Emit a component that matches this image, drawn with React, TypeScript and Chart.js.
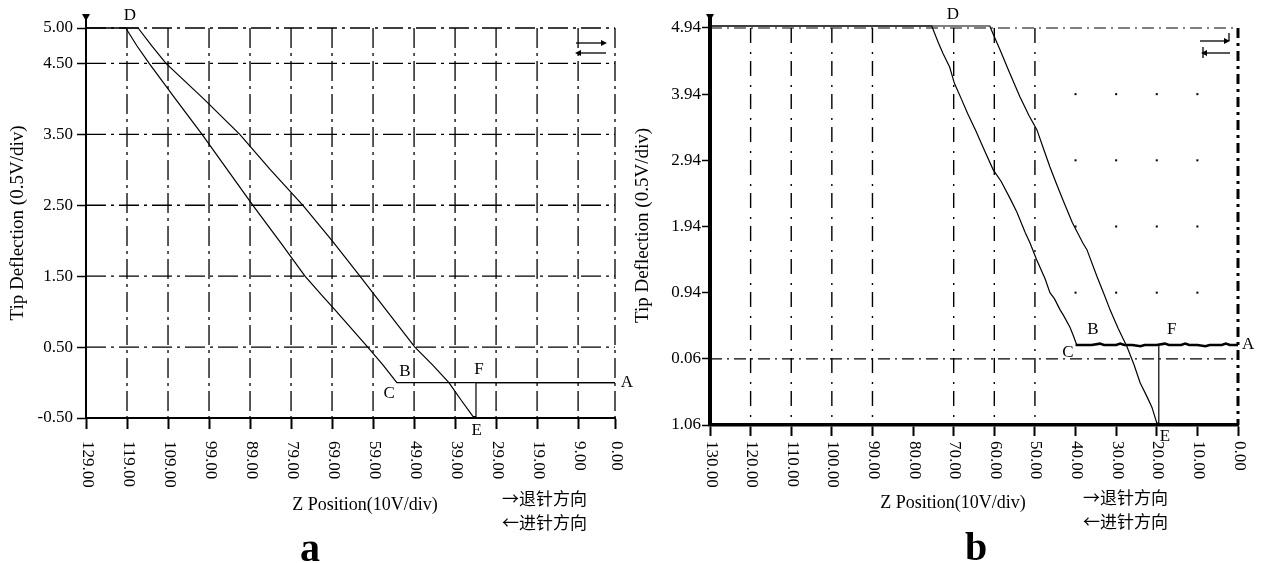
import React, { useEffect, useRef } from 'react';
import { Chart, registerables } from 'chart.js';

Chart.register(...registerables);

const SERIF = '"Liberation Serif", "Times New Roman", serif';
const CJK = '"Noto Sans CJK SC", "Noto Sans CJK JP", sans-serif';

// ---------------- Shared texts ----------------
const xTitleText = 'Z Position(10V/div)';
const yTitleText = 'Tip Deflection (0.5V/div)';
const legendLines = ['→退针方向', '←进针方向'];

// ---------------- Panel a ----------------
const xTicksA = [129, 119, 109, 99, 89, 79, 69, 59, 49, 39, 29, 19, 9, 0];
const xTickLabelsA = ['129.00', '119.00', '109.00', '99.00', '89.00', '79.00', '69.00', '59.00', '49.00', '39.00', '29.00', '19.00', '9.00', '0.00'];
const yTicksA = [-0.5, 0.5, 1.5, 2.5, 3.5, 4.5, 5.0];
const yTickLabelsA = ['-0.50', '0.50', '1.50', '2.50', '3.50', '4.50', '5.00'];
// approach (进针): A -> B/C -> D
const approachAX = [0, 53.2, 56.6, 60.3, 64.1, 67.9, 71.8, 75.6, 81.9, 88.3, 94.5, 100.7, 107.2, 113.6, 116.6, 119.3, 129];
const approachAY = [0, 0, 0.25, 0.5, 0.75, 1.0, 1.25, 1.5, 2.0, 2.5, 3.0, 3.5, 4.0, 4.5, 4.75, 5.0, 5.0];
// retract (退针): D -> E -> F -> A
const retractAX = [129, 116.3, 113.0, 109.5, 100.3, 91.5, 84.0, 76.1, 69.0, 62.2, 55.5, 48.8, 44.5, 40.5, 37.5, 34.6, 33.9, 33.9, 0];
const retractAY = [5.0, 5.0, 4.75, 4.5, 4.0, 3.5, 3.0, 2.5, 2.0, 1.5, 1.0, 0.5, 0.25, 0, -0.25, -0.48, -0.48, 0, 0];
const pointNamesA = ['D', 'B', 'C', 'F', 'E', 'A'];
const pointXA = [118.3, 51.2, 55.1, 33.2, 33.7, -2.9];
const pointYA = [5.17, 0.15, -0.15, 0.18, -0.68, 0];

// ---------------- Panel b ----------------
const xTicksB = [130, 120, 110, 100, 90, 80, 70, 60, 50, 40, 30, 20, 10, 0];
const xTickLabelsB = ['130.00', '120.00', '110.00', '100.00', '90.00', '80.00', '70.00', '60.00', '50.00', '40.00', '30.00', '20.00', '10.00', '0.00'];
const yTicksB = [4.94, 3.94, 2.94, 1.94, 0.94, -0.06, -1.06];
const yTickLabelsB = ['4.94', '3.94', '2.94', '1.94', '0.94', '0.06', '1.06'];
const gridXB = [120, 110, 100, 90, 70, 60, 50];
const gridYB = [4.94, -0.06];
const dotXB = [40, 30, 20, 10];
const dotYB = [3.94, 2.94, 1.94, 0.94];
const baselineBX = [0, 2, 3, 4, 7, 8, 10, 12, 13, 14, 17, 18, 20, 23, 24, 26, 28, 29, 30, 33, 34, 36, 38, 40];
const baselineBY = [0.15, 0.15, 0.17, 0.15, 0.15, 0.13, 0.15, 0.15, 0.17, 0.15, 0.15, 0.17, 0.15, 0.15, 0.13, 0.15, 0.15, 0.17, 0.15, 0.15, 0.17, 0.15, 0.15, 0.15];
const approachBX = [39.7, 40.6, 41.4, 43.0, 43.8, 45.2, 46.3, 47.5, 49.6, 51.2, 52.4, 54.4, 56.0, 58.3, 60.3, 62.8, 64.5, 66.6, 68.2, 69.8, 71.0, 72.6, 73.8, 75.4, 130];
const approachBY = [0.15, 0.30, 0.42, 0.60, 0.68, 0.85, 0.94, 1.15, 1.44, 1.69, 1.85, 2.15, 2.35, 2.62, 2.80, 3.14, 3.38, 3.65, 3.88, 4.10, 4.35, 4.55, 4.72, 4.97, 4.97];
const retractBX = [130, 61.1, 60.5, 58.6, 56.5, 53.7, 51.5, 49.5, 47.8, 46.3, 44.8, 43.1, 40.8, 38.2, 37.2, 34.7, 33.0, 31.5, 29.5, 27.3, 25.6, 24.1, 22.5, 21.2, 20.0, 19.5, 19.5];
const retractBY = [4.97, 4.97, 4.88, 4.61, 4.30, 3.90, 3.62, 3.40, 3.10, 2.84, 2.60, 2.34, 2.00, 1.69, 1.59, 1.18, 0.92, 0.68, 0.40, 0.12, -0.15, -0.42, -0.62, -0.79, -1.03, -1.03, 0.15];
const pointNamesB = ['D', 'B', 'C', 'F', 'E', 'A'];
const pointXB = [70.2, 35.7, 41.9, 16.3, 18.0, -2.5];
const pointYB = [5.14, 0.38, 0.03, 0.38, -1.24, 0.15];

const pts = (xs: number[], ys: number[]) => xs.map((x, i) => ({ x, y: ys[i] }));

function seg(ctx: CanvasRenderingContext2D, x1: number, y1: number, x2: number, y2: number, dash: number[], lw: number) {
  ctx.save();
  ctx.setLineDash(dash);
  ctx.lineWidth = lw;
  ctx.strokeStyle = '#000';
  ctx.beginPath();
  ctx.moveTo(x1, y1);
  ctx.lineTo(x2, y2);
  ctx.stroke();
  ctx.restore();
}

function drawRotatedTicks(ctx: CanvasRenderingContext2D, scale: any, values: number[], labels: string[], yTop: number) {
  ctx.save();
  ctx.fillStyle = '#000';
  ctx.font = `17px ${SERIF}`;
  ctx.textAlign = 'left';
  ctx.textBaseline = 'middle';
  values.forEach((v, i) => {
    const px = scale.getPixelForValue(v);
    ctx.save();
    ctx.translate(px + 1, yTop);
    ctx.rotate(Math.PI / 2);
    ctx.fillText(labels[i], 0, 0);
    ctx.restore();
  });
  ctx.restore();
}

function drawText(ctx: CanvasRenderingContext2D, text: string, x: number, y: number, font: string, align: CanvasTextAlign = 'center', baseline: CanvasTextBaseline = 'middle') {
  ctx.save();
  ctx.fillStyle = '#000';
  ctx.font = font;
  ctx.textAlign = align;
  ctx.textBaseline = baseline;
  ctx.fillText(text, x, y);
  ctx.restore();
}

function arrowHead(ctx: CanvasRenderingContext2D, x: number, y: number, dir: number) {
  ctx.save();
  ctx.fillStyle = '#000';
  ctx.beginPath();
  ctx.moveTo(x, y);
  ctx.lineTo(x - dir * 6, y - 3);
  ctx.lineTo(x - dir * 6, y + 3);
  ctx.closePath();
  ctx.fill();
  ctx.restore();
}

function axisTop(ctx: CanvasRenderingContext2D, x: number, top: number, lw: number) {
  seg(ctx, x, top + 1, x, 17, [], lw);
  ctx.save();
  ctx.fillStyle = '#000';
  ctx.beginPath();
  ctx.moveTo(x - 4, 14);
  ctx.lineTo(x + 4, 14);
  ctx.lineTo(x, 21);
  ctx.closePath();
  ctx.fill();
  ctx.restore();
}

function baseScales(cfg: any) {
  return {
    x: {
      type: 'linear',
      reverse: true,
      min: cfg.xMin,
      max: cfg.xMax,
      afterBuildTicks: (s: any) => { s.ticks = cfg.xTicks.map((v: number) => ({ value: v })); },
      afterFit: (s: any) => { s.height = cfg.xHeight; },
      ticks: { display: false },
      grid: { display: true, drawOnChartArea: false, drawTicks: true, tickLength: 11, tickWidth: cfg.xTickWidth, tickColor: '#000', color: '#000' },
      border: { display: true, color: '#000', width: cfg.xBorder },
    },
    y: {
      type: 'linear',
      min: cfg.yMin,
      max: cfg.yMax,
      afterBuildTicks: (s: any) => { s.ticks = cfg.yTicks.map((v: number) => ({ value: v })); },
      afterFit: (s: any) => { s.width = cfg.yWidth; },
      ticks: {
        color: '#000',
        padding: cfg.yPad,
        font: { family: SERIF, size: 17 },
        callback: (_v: any, i: number) => cfg.yTickLabels[i],
      },
      grid: { display: true, drawOnChartArea: false, drawTicks: true, tickLength: cfg.yTickLen, tickWidth: 1.5, tickColor: '#000', color: '#000' },
      border: { display: true, color: '#000', width: cfg.yBorder },
      title: {
        display: true,
        text: yTitleText,
        color: '#000',
        font: { family: SERIF, size: 19 },
        padding: { top: cfg.titlePad, bottom: 0 },
      },
    },
  };
}

function lineDs(data: any[], width: number) {
  return {
    data,
    borderColor: '#000',
    backgroundColor: '#000',
    borderWidth: width,
    pointRadius: 0,
    tension: 0,
    fill: false,
    showLine: true,
    clip: false,
  };
}

function makeChartA(canvas: HTMLCanvasElement) {
  const plugin = {
    id: 'extrasA',
    beforeDatasetsDraw(chart: any) {
      const { ctx, chartArea: a, scales: { x, y } } = chart;
      xTicksA.forEach((v) => {
        if (v === 129) return;
        const px = x.getPixelForValue(v);
        seg(ctx, px, a.top, px, a.bottom, [20, 5, 3, 5], 1.3);
      });
      yTicksA.forEach((v) => {
        if (v === -0.5) return;
        const py = y.getPixelForValue(v);
        seg(ctx, a.left, py, a.right, py, [20, 5, 3, 5], 1.3);
      });
    },
    afterDraw(chart: any) {
      const { ctx, chartArea: a, scales: { x, y } } = chart;
      axisTop(ctx, a.left, a.top, 2);
      drawRotatedTicks(ctx, x, xTicksA, xTickLabelsA, 441);
      drawText(ctx, xTitleText, 365, 505, `18px ${SERIF}`);
      drawText(ctx, legendLines[0], 502, 499, `17px ${CJK}`, 'left');
      drawText(ctx, legendLines[1], 502, 523, `17px ${CJK}`, 'left');
      drawText(ctx, 'a', 310, 561, `bold 40px ${SERIF}`, 'center', 'alphabetic');
      pointNamesA.forEach((t, i) => {
        drawText(ctx, t, x.getPixelForValue(pointXA[i]), y.getPixelForValue(pointYA[i]), `17px ${SERIF}`);
      });
      // direction icon
      seg(ctx, 576, 43, 604, 43, [], 1.3);
      arrowHead(ctx, 607, 43, 1);
      seg(ctx, 578, 53, 606, 53, [], 1.3);
      arrowHead(ctx, 575, 53, -1);
    },
  };
  return new Chart(canvas, {
    type: 'line',
    data: {
      datasets: [
        lineDs(pts(approachAX, approachAY), 1.2),
        lineDs(pts(retractAX, retractAY), 1.2),
      ],
    },
    options: {
      animation: false,
      responsive: false,
      events: [],
      layout: { padding: { left: 0, top: 28, right: 25, bottom: 0 } },
      plugins: { legend: { display: false }, tooltip: { enabled: false } },
      scales: baseScales({
        xMin: 0, xMax: 129, xTicks: xTicksA, xHeight: 145, xTickWidth: 2, xBorder: 2,
        yMin: -0.5, yMax: 5.0, yTicks: yTicksA, yTickLabels: yTickLabelsA, yWidth: 86, yPad: 4, yTickLen: 9, yBorder: 2,
        titlePad: 7,
      }),
    } as any,
    plugins: [plugin],
  } as any);
}

function makeChartB(canvas: HTMLCanvasElement) {
  const OFF = 620;
  const plugin = {
    id: 'extrasB',
    beforeDatasetsDraw(chart: any) {
      const { ctx, chartArea: a, scales: { x, y } } = chart;
      gridXB.forEach((v) => {
        const px = x.getPixelForValue(v);
        seg(ctx, px, a.top + 2, px, a.bottom, [15, 9, 2, 7], 1.4);
      });
      const rx = x.getPixelForValue(0);
      seg(ctx, rx, a.top + 2, rx, a.bottom, [10, 5, 3, 5], 3);
      gridYB.forEach((v) => {
        const py = y.getPixelForValue(v);
        seg(ctx, a.left, py, a.right, py, [12, 5, 2, 5], 1.2);
      });
      ctx.save();
      ctx.fillStyle = '#000';
      dotXB.forEach((xv) => {
        dotYB.forEach((yv) => {
          ctx.fillRect(x.getPixelForValue(xv) - 1, y.getPixelForValue(yv) - 1, 2, 2);
        });
      });
      ctx.restore();
    },
    afterDraw(chart: any) {
      const { ctx, chartArea: a, scales: { x, y } } = chart;
      axisTop(ctx, a.left, a.top, 4);
      drawRotatedTicks(ctx, x, xTicksB, xTickLabelsB, 441);
      drawText(ctx, xTitleText, 953 - OFF, 503, `18px ${SERIF}`);
      drawText(ctx, legendLines[0], 1083 - OFF, 498, `17px ${CJK}`, 'left');
      drawText(ctx, legendLines[1], 1083 - OFF, 522, `17px ${CJK}`, 'left');
      drawText(ctx, 'b', 976 - OFF, 560, `bold 40px ${SERIF}`, 'center', 'alphabetic');
      pointNamesB.forEach((t, i) => {
        drawText(ctx, t, x.getPixelForValue(pointXB[i]), y.getPixelForValue(pointYB[i]), `17px ${SERIF}`);
      });
      // direction icon
      const ix = 1200 - OFF;
      seg(ctx, ix, 41, ix + 27, 41, [], 1.3);
      arrowHead(ctx, ix + 30, 41, 1);
      seg(ctx, ix + 29, 33, ix + 29, 41, [], 1.3);
      seg(ctx, ix + 5, 53, ix + 30, 53, [], 1.3);
      arrowHead(ctx, ix + 1, 53, -1);
      seg(ctx, ix + 3, 47, ix + 3, 58, [], 1.3);
    },
  };
  return new Chart(canvas, {
    type: 'line',
    data: {
      datasets: [
        lineDs(pts(baselineBX, baselineBY), 2.6),
        lineDs(pts(approachBX, approachBY), 1.2),
        lineDs(pts(retractBX, retractBY), 1.2),
      ],
    },
    options: {
      animation: false,
      responsive: false,
      events: [],
      layout: { padding: { left: 0, top: 26, right: 23, bottom: 0 } },
      plugins: { legend: { display: false }, tooltip: { enabled: false } },
      scales: baseScales({
        xMin: 0, xMax: 130, xTicks: xTicksB, xHeight: 138, xTickWidth: 2, xBorder: 3.5,
        yMin: -1.06, yMax: 4.97, yTicks: yTicksB, yTickLabels: yTickLabelsB, yWidth: 90, yPad: 1, yTickLen: 8, yBorder: 4,
        titlePad: 12,
      }),
    } as any,
    plugins: [plugin],
  } as any);
}

export default function App() {
  const refA = useRef<HTMLCanvasElement | null>(null);
  const refB = useRef<HTMLCanvasElement | null>(null);

  useEffect(() => {
    const ca = refA.current ? makeChartA(refA.current) : null;
    const cb = refB.current ? makeChartB(refB.current) : null;
    return () => {
      ca && ca.destroy();
      cb && cb.destroy();
    };
  }, []);

  return (
    <div style={{ position: 'fixed', left: 0, top: 0, width: 1261, height: 563, background: '#fff', overflow: 'hidden' }}>
      <canvas ref={refA} width={640} height={563} style={{ position: 'absolute', left: 0, top: 0, width: 640, height: 563 }} />
      <canvas ref={refB} width={641} height={563} style={{ position: 'absolute', left: 620, top: 0, width: 641, height: 563 }} />
    </div>
  );
}
